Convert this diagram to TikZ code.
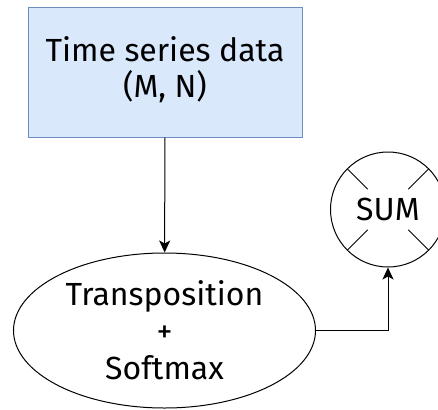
\documentclass[tikz,border=0pt]{standalone}
\usepackage{fontspec}
\setmainfont{Fira Sans}
\usetikzlibrary{shapes.geometric,arrows.meta}

\definecolor{boxfill}{HTML}{DAE8FC}
\definecolor{boxline}{HTML}{6C8EBF}

\tikzset{
    every node/.style={font=\fontsize{32}{37}\selectfont, align=center, inner sep=0pt},
    databox/.style={draw=boxline, fill=boxfill, line width=1pt, minimum width=274pt, minimum height=129.5pt},
    opnode/.style={draw, ellipse, line width=1pt, minimum width=302pt, minimum height=155pt},
    sumnode/.style={draw, circle, line width=1pt, minimum size=115pt},
    flow/.style={line width=1pt, -{Stealth[length=12pt,width=11pt,inset=3pt]}}
}

\begin{document}
\begin{tikzpicture}[x=1pt, y=-1pt]
    \useasboundingbox (0,0) rectangle (438,409);

    \node[databox] (data) at (165,72.25) {\raisebox{-2pt}{\begin{tabular}{@{}c@{}}Time series data\\[-2pt](M, N)\end{tabular}}};
    \node[opnode] (trans) at (164.5,330.5) {Transposition\\+\\Softmax};
    \node[sumnode] (sum) at (388,209.5) {SUM};

    % cross inside the sum node
    \foreach \a in {45,135,225,315}
        \draw[line width=1pt] (sum.center) ++(\a:28.75) -- ++(\a:28.75);

    \draw[flow] (data) -- (trans);
    \draw[flow] (trans.east) -| (sum.south);
\end{tikzpicture}
\end{document}
